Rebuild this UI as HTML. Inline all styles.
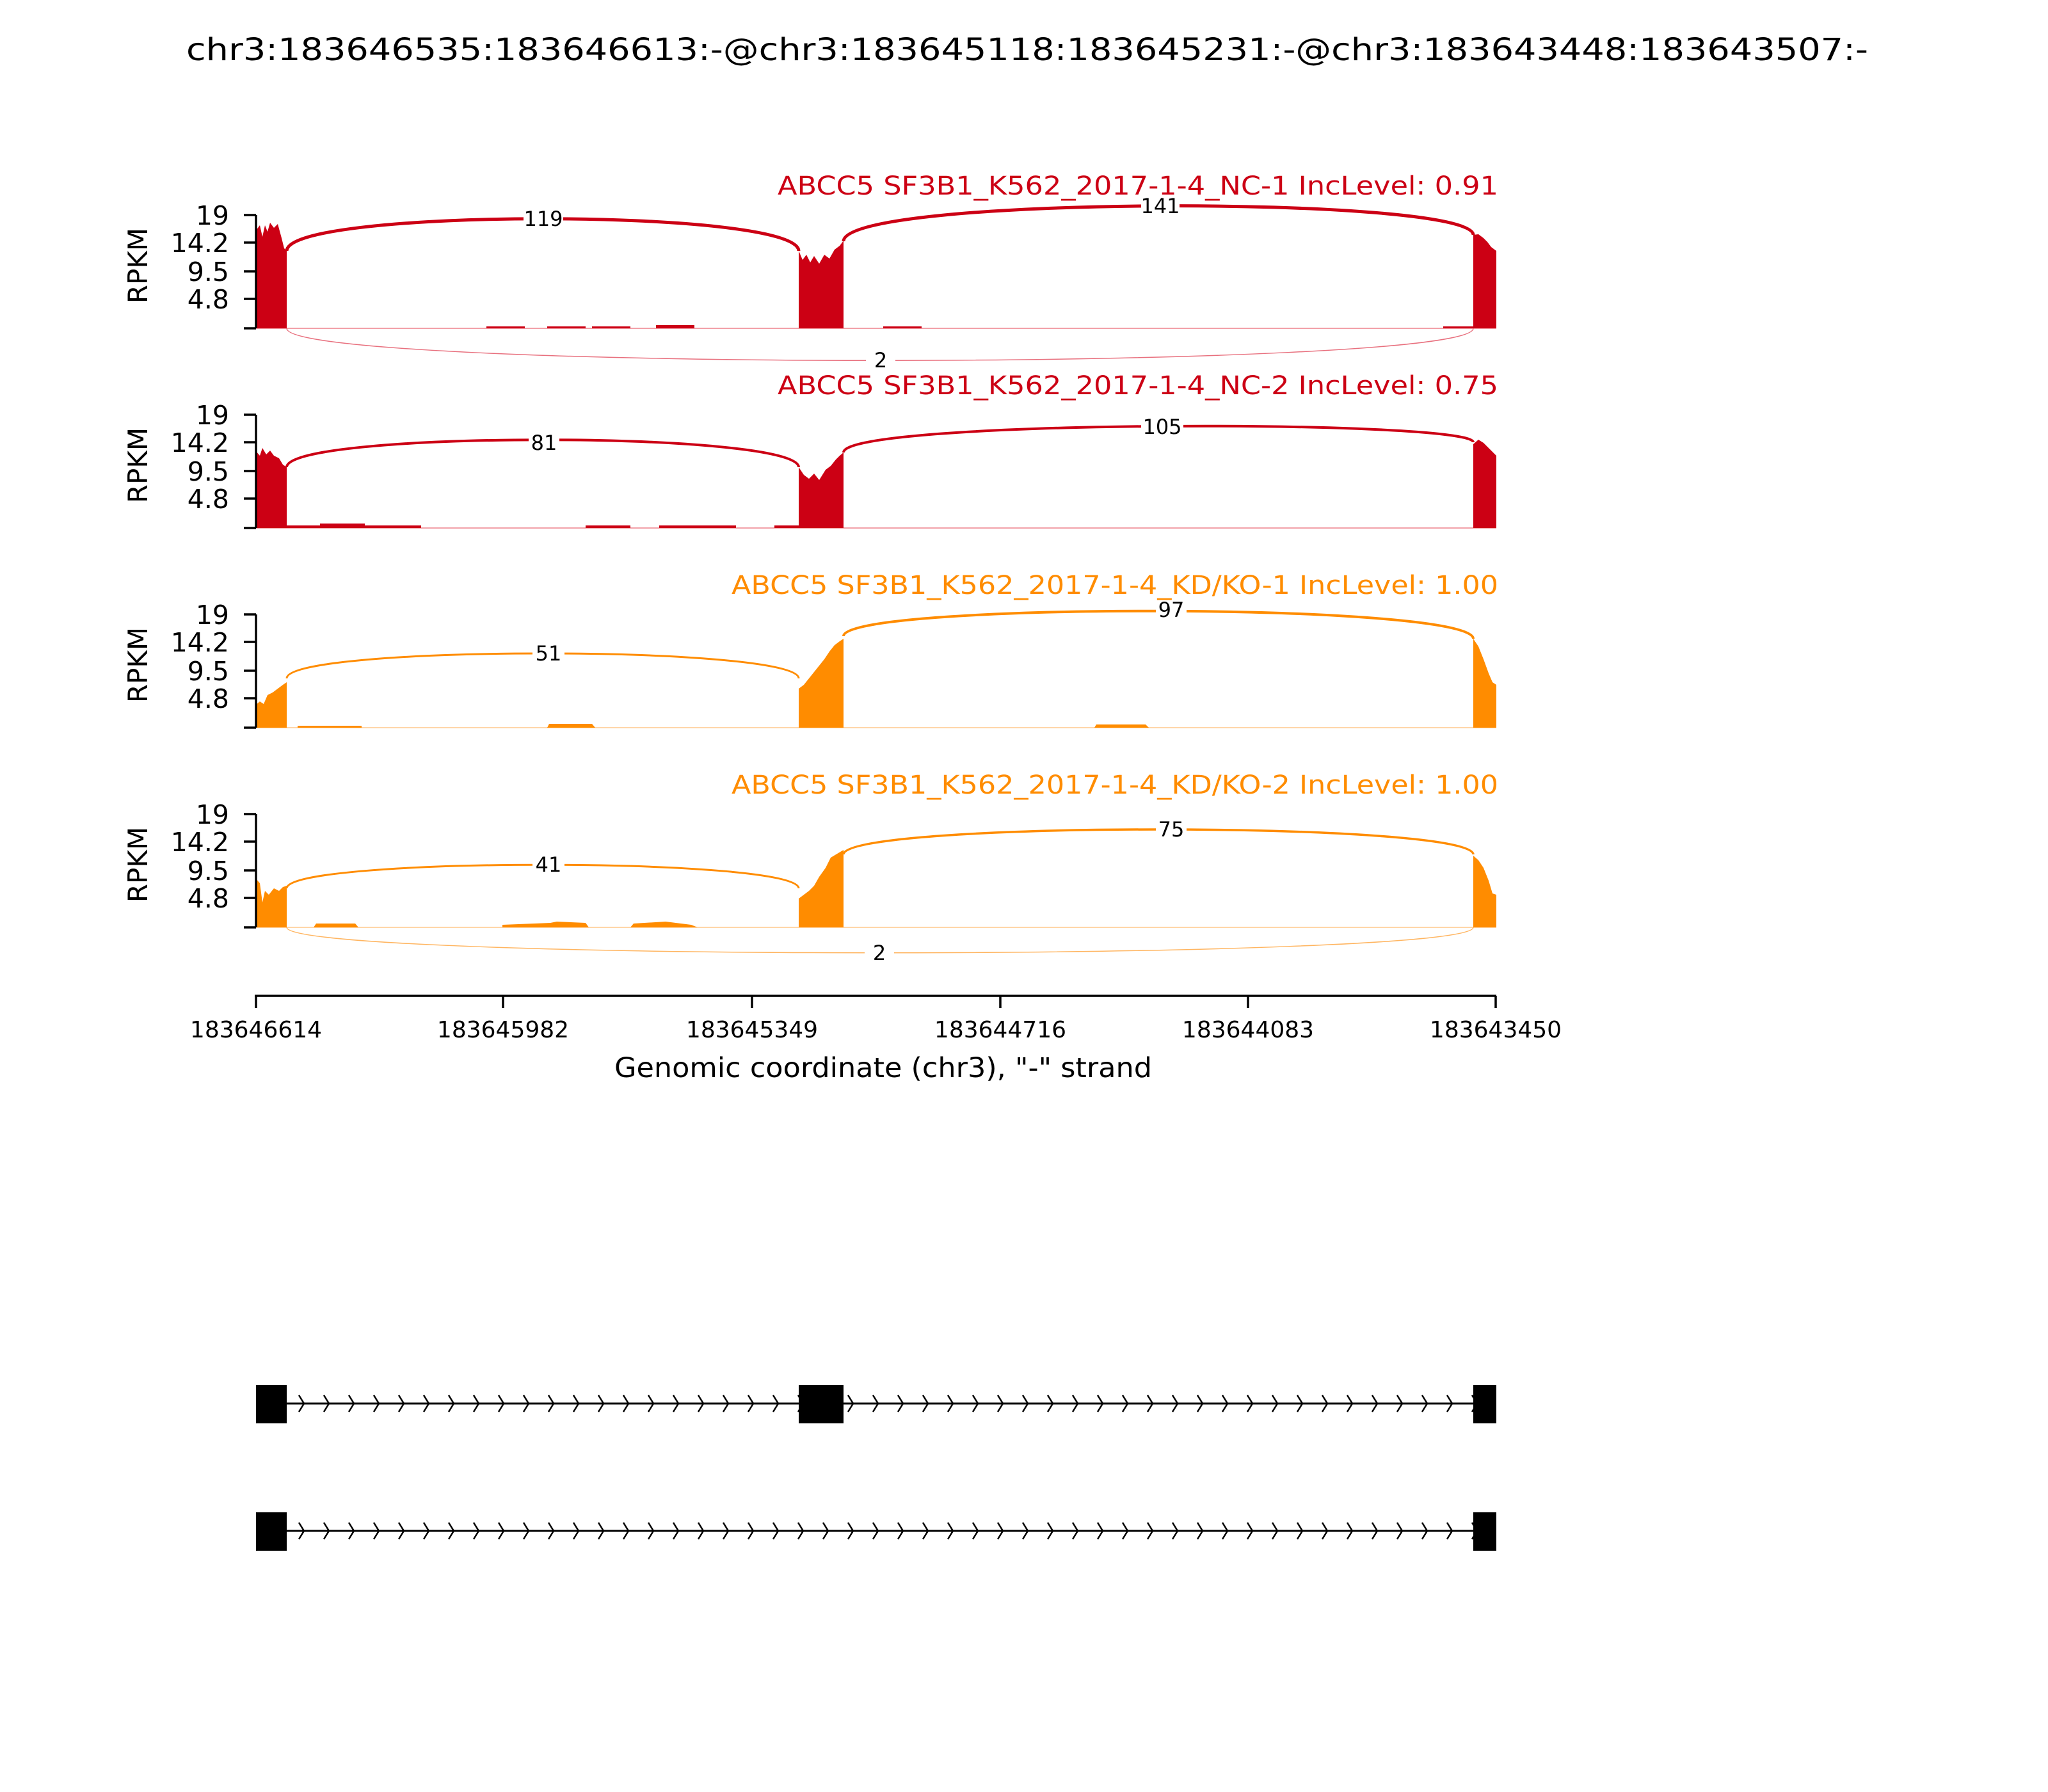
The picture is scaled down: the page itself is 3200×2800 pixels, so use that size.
<!DOCTYPE html>
<html><head><meta charset="utf-8"><style>
html,body{margin:0;padding:0;background:#fff}
svg{display:block}
text{font-family:"DejaVu Sans","Liberation Sans",sans-serif}
</style></head><body>
<svg width="3200" height="2800" viewBox="0 0 3200 2800" xmlns="http://www.w3.org/2000/svg">
<rect width="3200" height="2800" fill="#fff"/>
<text x="1605" y="94" font-size="48" text-anchor="middle" textLength="2628" lengthAdjust="spacingAndGlyphs">chr3:183646535:183646613:-@chr3:183645118:183645231:-@chr3:183643448:183643507:-</text>

<!-- PANEL 1 -->
<g>
<line x1="400" y1="513" x2="2338" y2="513" stroke="#f2a0a8" stroke-width="2"/>
<path d="M400,513 L400,360 L406,352 L410,370 L414,352 L418,362 L422,348 L428,356 L434,350 L440,372 L444,388 L448,392 L448,513Z" fill="#cc0014"/>
<path d="M1248,513 L1248,392 L1254,406 L1260,398 L1266,410 L1272,400 L1280,412 L1288,398 L1296,404 L1304,390 L1312,384 L1318,376 L1318,513Z" fill="#cc0014"/>
<path d="M2302,513 L2302,367 L2310,366 L2318,372 L2324,378 L2330,386 L2338,392 L2338,513Z" fill="#cc0014"/>
<rect x="760" y="510" width="60" height="3" fill="#cc0014"/><rect x="855" y="510" width="60" height="3" fill="#cc0014"/><rect x="925" y="510" width="60" height="3" fill="#cc0014"/><rect x="1025" y="508" width="60" height="5" fill="#cc0014"/><rect x="1380" y="510" width="60" height="3" fill="#cc0014"/><rect x="2255" y="510" width="47" height="3" fill="#cc0014"/>
<path d="M448,392 C448,325 1248,325 1248,392" fill="none" stroke="#cc0014" stroke-width="5"/>
<path d="M1318,377 C1318,305 2302,305 2302,367" fill="none" stroke="#cc0014" stroke-width="5"/>
<path d="M448,513 C448,580 2302,580 2302,513" fill="none" stroke="#e8707e" stroke-width="1.5"/>
<rect x="818" y="323" width="62" height="36" fill="#fff"/><text x="849" y="353" font-size="32" text-anchor="middle">119</text>
<rect x="1783" y="303" width="60" height="36" fill="#fff"/><text x="1813" y="333" font-size="32" text-anchor="middle">141</text>
<rect x="1353" y="544" width="46" height="36" fill="#fff"/><text x="1376" y="574" font-size="32" text-anchor="middle">2</text>
<text x="2341" y="304" font-size="40" fill="#cc0014" text-anchor="end" textLength="1126" lengthAdjust="spacingAndGlyphs">ABCC5 SF3B1_K562_2017-1-4_NC-1 IncLevel: 0.91</text>
</g>

<!-- PANEL 2 -->
<g>
<line x1="400" y1="825" x2="2338" y2="825" stroke="#f2a0a8" stroke-width="2"/>
<path d="M400,825 L400,705 L406,712 L410,700 L416,710 L422,704 L428,712 L436,716 L442,726 L448,730 L448,825Z" fill="#cc0014"/>
<path d="M1248,825 L1248,730 L1256,742 L1264,748 L1272,740 L1280,750 L1290,734 L1298,728 L1306,718 L1312,712 L1318,707 L1318,825Z" fill="#cc0014"/>
<path d="M2302,825 L2302,694 L2310,687 L2318,692 L2328,702 L2338,712 L2338,825Z" fill="#cc0014"/>
<rect x="448" y="821" width="210" height="4" fill="#cc0014"/><rect x="500" y="818" width="70" height="7" fill="#cc0014"/><rect x="915" y="821" width="70" height="4" fill="#cc0014"/><rect x="1030" y="821" width="120" height="4" fill="#cc0014"/><rect x="1210" y="821" width="38" height="4" fill="#cc0014"/>
<path d="M448,730 C448,673 1248,673 1248,730" fill="none" stroke="#cc0014" stroke-width="4"/>
<path d="M1318,707 C1318,655 2302,655 2302,691" fill="none" stroke="#cc0014" stroke-width="4"/>
<rect x="826" y="673" width="48" height="36" fill="#fff"/><text x="850" y="703" font-size="32" text-anchor="middle">81</text>
<rect x="1783" y="648" width="66" height="36" fill="#fff"/><text x="1816" y="678" font-size="32" text-anchor="middle">105</text>
<text x="2341" y="616" font-size="40" fill="#cc0014" text-anchor="end" textLength="1126" lengthAdjust="spacingAndGlyphs">ABCC5 SF3B1_K562_2017-1-4_NC-2 IncLevel: 0.75</text>
</g>

<!-- PANEL 3 -->
<g>
<line x1="400" y1="1137" x2="2338" y2="1137" stroke="#ffd6a8" stroke-width="2"/>
<path d="M400,1137 L400,1101 L406,1096 L412,1100 L418,1086 L426,1082 L434,1076 L442,1070 L448,1066 L448,1137Z" fill="#ff8c00"/>
<path d="M1248,1137 L1248,1076 L1256,1070 L1264,1060 L1272,1050 L1280,1040 L1288,1030 L1296,1018 L1304,1008 L1312,1002 L1318,998 L1318,1137Z" fill="#ff8c00"/>
<path d="M2302,1137 L2302,998 L2310,1010 L2318,1030 L2326,1052 L2332,1066 L2338,1070 L2338,1137Z" fill="#ff8c00"/>
<rect x="465" y="1134" width="100" height="3" fill="#ff8c00"/><path d="M855,1137 L858,1131 L925,1131 L930,1137Z" fill="#ff8c00"/><path d="M1710,1137 L1713,1132 L1790,1132 L1795,1137Z" fill="#ff8c00"/>
<path d="M448,1060 C448,1008 1248,1008 1248,1060" fill="none" stroke="#ff8c00" stroke-width="3"/>
<path d="M1318,994 C1318,941 2302,941 2302,998" fill="none" stroke="#ff8c00" stroke-width="4"/>
<rect x="832" y="1002" width="50" height="36" fill="#fff"/><text x="857" y="1032" font-size="32" text-anchor="middle">51</text>
<rect x="1806" y="934" width="48" height="36" fill="#fff"/><text x="1830" y="964" font-size="32" text-anchor="middle">97</text>
<text x="2341" y="928" font-size="40" fill="#ff8c00" text-anchor="end" textLength="1198" lengthAdjust="spacingAndGlyphs">ABCC5 SF3B1_K562_2017-1-4_KD/KO-1 IncLevel: 1.00</text>
</g>

<!-- PANEL 4 -->
<g>
<line x1="400" y1="1449" x2="2338" y2="1449" stroke="#ffd6a8" stroke-width="2"/>
<path d="M400,1449 L400,1373 L406,1380 L410,1410 L414,1392 L420,1398 L428,1388 L436,1392 L442,1386 L448,1384 L448,1449Z" fill="#ff8c00"/>
<path d="M1248,1449 L1248,1404 L1256,1398 L1264,1392 L1272,1384 L1280,1370 L1290,1356 L1298,1340 L1308,1334 L1318,1328 L1318,1449Z" fill="#ff8c00"/>
<path d="M2302,1449 L2302,1337 L2310,1344 L2318,1356 L2326,1376 L2332,1396 L2338,1398 L2338,1449Z" fill="#ff8c00"/>
<path d="M490,1449 L494,1443 L555,1443 L560,1449Z" fill="#ff8c00"/><path d="M785,1449 L785,1445 L860,1442 L870,1440 L915,1442 L920,1449Z" fill="#ff8c00"/><path d="M985,1449 L990,1443 L1040,1440 L1080,1445 L1090,1449Z" fill="#ff8c00"/>
<path d="M448,1388 C448,1339 1248,1339 1248,1388" fill="none" stroke="#ff8c00" stroke-width="3"/>
<path d="M1318,1335 C1318,1283 2302,1283 2302,1335" fill="none" stroke="#ff8c00" stroke-width="3.5"/>
<path d="M448,1449 C448,1502 2302,1502 2302,1449" fill="none" stroke="#ffb560" stroke-width="1.5"/>
<rect x="832" y="1332" width="50" height="36" fill="#fff"/><text x="857" y="1362" font-size="32" text-anchor="middle">41</text>
<rect x="1806" y="1277" width="48" height="36" fill="#fff"/><text x="1830" y="1307" font-size="32" text-anchor="middle">75</text>
<rect x="1351" y="1470" width="46" height="36" fill="#fff"/><text x="1374" y="1500" font-size="32" text-anchor="middle">2</text>
<text x="2341" y="1240" font-size="40" fill="#ff8c00" text-anchor="end" textLength="1198" lengthAdjust="spacingAndGlyphs">ABCC5 SF3B1_K562_2017-1-4_KD/KO-2 IncLevel: 1.00</text>
</g>

<!-- Y axes -->
<g stroke="#000" stroke-width="3.5">
<line x1="400" y1="336" x2="400" y2="513"/><line x1="381" y1="336" x2="400" y2="336"/><line x1="381" y1="379" x2="400" y2="379"/><line x1="381" y1="424" x2="400" y2="424"/><line x1="381" y1="467" x2="400" y2="467"/><line x1="381" y1="513" x2="400" y2="513"/>
<line x1="400" y1="648" x2="400" y2="825"/><line x1="381" y1="648" x2="400" y2="648"/><line x1="381" y1="691" x2="400" y2="691"/><line x1="381" y1="736" x2="400" y2="736"/><line x1="381" y1="779" x2="400" y2="779"/><line x1="381" y1="825" x2="400" y2="825"/>
<line x1="400" y1="960" x2="400" y2="1137"/><line x1="381" y1="960" x2="400" y2="960"/><line x1="381" y1="1003" x2="400" y2="1003"/><line x1="381" y1="1048" x2="400" y2="1048"/><line x1="381" y1="1091" x2="400" y2="1091"/><line x1="381" y1="1137" x2="400" y2="1137"/>
<line x1="400" y1="1272" x2="400" y2="1449"/><line x1="381" y1="1272" x2="400" y2="1272"/><line x1="381" y1="1315" x2="400" y2="1315"/><line x1="381" y1="1360" x2="400" y2="1360"/><line x1="381" y1="1403" x2="400" y2="1403"/><line x1="381" y1="1449" x2="400" y2="1449"/>
</g>
<g font-size="41" text-anchor="end">
<text x="358" y="351">19</text><text x="358" y="394">14.2</text><text x="358" y="439">9.5</text><text x="358" y="482">4.8</text>
<text x="358" y="663">19</text><text x="358" y="706">14.2</text><text x="358" y="751">9.5</text><text x="358" y="794">4.8</text>
<text x="358" y="975">19</text><text x="358" y="1018">14.2</text><text x="358" y="1063">9.5</text><text x="358" y="1106">4.8</text>
<text x="358" y="1287">19</text><text x="358" y="1330">14.2</text><text x="358" y="1375">9.5</text><text x="358" y="1418">4.8</text>
</g>
<g font-size="42" text-anchor="middle">
<text transform="translate(230,415) rotate(-90)">RPKM</text>
<text transform="translate(230,727) rotate(-90)">RPKM</text>
<text transform="translate(230,1039) rotate(-90)">RPKM</text>
<text transform="translate(230,1351) rotate(-90)">RPKM</text>
</g>

<!-- X axis -->
<g stroke="#000" stroke-width="3.5">
<line x1="398" y1="1556" x2="2338" y2="1556"/>
<line x1="400" y1="1556" x2="400" y2="1575"/><line x1="786" y1="1556" x2="786" y2="1575"/><line x1="1175" y1="1556" x2="1175" y2="1575"/><line x1="1563" y1="1556" x2="1563" y2="1575"/><line x1="1950" y1="1556" x2="1950" y2="1575"/><line x1="2337" y1="1556" x2="2337" y2="1575"/>
</g>
<g font-size="36" text-anchor="middle">
<text x="400" y="1621">183646614</text><text x="786" y="1621">183645982</text><text x="1175" y="1621">183645349</text><text x="1563" y="1621">183644716</text><text x="1950" y="1621">183644083</text><text x="2337" y="1621">183643450</text>
</g>
<text x="1380" y="1683" font-size="43" text-anchor="middle" textLength="840" lengthAdjust="spacingAndGlyphs">Genomic coordinate (chr3), "-" strand</text>

<!-- Gene models -->
<defs>
<pattern id="chev" x="0" y="0" width="39" height="40" patternUnits="userSpaceOnUse">
<path d="M1,7 L9,20 L1,33" fill="none" stroke="#000" stroke-width="2.5"/>
</pattern>
</defs>
<line x1="448" y1="2193" x2="2302" y2="2193" stroke="#000" stroke-width="3"/>
<g transform="translate(466,2173)"><rect x="0" y="0" width="1836" height="40" fill="url(#chev)"/></g>
<rect x="400" y="2164" width="48" height="60" fill="#000"/>
<rect x="1248" y="2164" width="70" height="60" fill="#000"/>
<rect x="2302" y="2164" width="36" height="60" fill="#000"/>

<line x1="448" y1="2392" x2="2302" y2="2392" stroke="#000" stroke-width="3"/>
<g transform="translate(466,2372)"><rect x="0" y="0" width="1836" height="40" fill="url(#chev)"/></g>
<rect x="400" y="2363" width="48" height="60" fill="#000"/>
<rect x="2302" y="2363" width="36" height="60" fill="#000"/>
</svg>
</body></html>
